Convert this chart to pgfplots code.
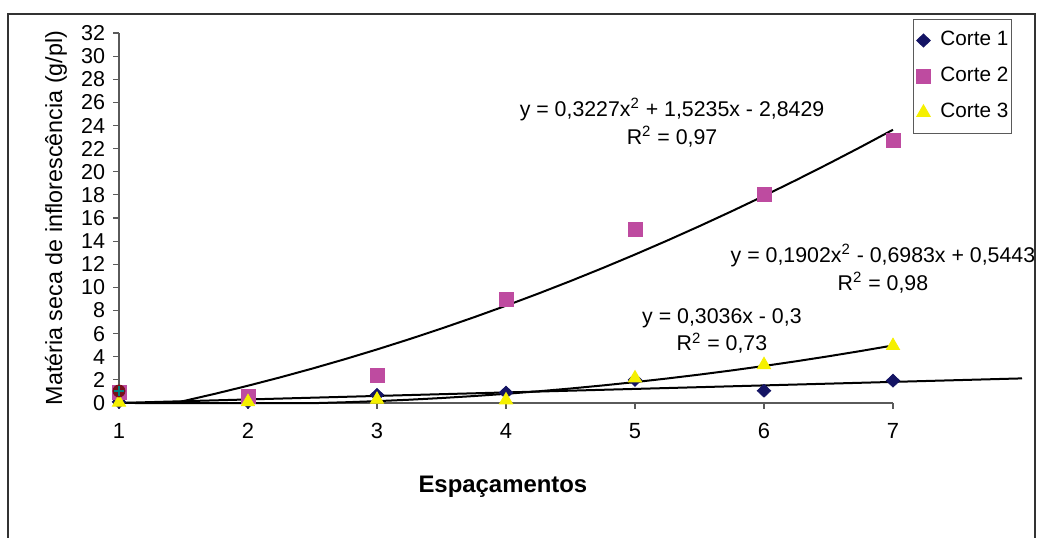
\documentclass[border=0pt]{standalone}
\usepackage{fontspec}
\setmainfont{Liberation Sans}
\usepackage{pgfplots}
\pgfplotsset{compat=1.18}
\definecolor{c1}{RGB}{20,20,100}
\definecolor{c2}{RGB}{190,75,160}
\definecolor{c3}{RGB}{245,240,0}
\definecolor{c6}{RGB}{120,15,25}
\definecolor{c7}{RGB}{0,128,128}
\definecolor{axgray}{RGB}{90,90,90}
\begin{document}
\begin{tikzpicture}
\begin{axis}[
  scale only axis, width=387bp, height=185bp,
  xmin=1, xmax=7, ymin=0, ymax=32,
  clip=false,
  axis x line*=bottom, axis y line*=left,
  axis line style={axgray, line width=0.6bp},
  xtick={1,...,7}, ytick={0,2,...,32},
  tick align=outside, tick style={axgray, line width=0.6bp},
  major tick length=2.8bp,
  /pgf/number format/assume math mode=true,
  xticklabel style={font=\fontsize{11}{12}\selectfont, inner sep=0pt, anchor=north, yshift=-7bp},
  yticklabel style={font=\fontsize{10.8}{11}\selectfont, inner sep=0pt, anchor=east, xshift=-4bp},
  every axis x label/.style={at={(axis description cs:0.496,-0.2432)}, anchor=base},
  every axis y label/.style={at={(axis description cs:-0.0736,0.5)}, rotate=90, anchor=base},
  xlabel={\fontsize{12}{14}\selectfont\bfseries Espaçamentos},
  ylabel={\fontsize{11.7}{14}\selectfont Matéria seca de inflorescência (g/pl)},
  legend style={at={(axis description cs:1.0258,1.0378)}, anchor=north west,
    draw=axgray, line width=0.5bp, font=\fontsize{10.4}{12}\selectfont,
    inner xsep=1.5bp, inner ysep=6bp, row sep=9bp, column sep=5bp,
    nodes={inner sep=0pt, text height=7bp, text depth=2bp},
    cells={anchor=west}},
]
\coordinate (SW) at (rel axis cs:0,0);
% data series
\addplot[only marks, color=c1, mark=diamond*, mark size=3.2bp, mark options={xscale=1.4}]
  coordinates {(1,0.1) (2,0.1) (3,0.7) (4,0.9) (5,2.0) (6,1.06) (7,1.93)};
\addlegendentry{Corte 1\hspace{4bp}}
\addplot[only marks, color=c2, mark=square*, mark size=3.5bp]
  coordinates {(1,0.9) (2,0.6) (3,2.4) (4,9.0) (5,15.05) (6,18.05) (7,22.7)};
\addlegendentry{Corte 2\hspace{4bp}}
\addplot[only marks, color=c3, mark=triangle*, mark size=3.8bp]
  coordinates {(1,0.05) (2,0.1) (3,0.3) (4,0.25) (5,2.15) (6,3.3) (7,4.95)};
\addlegendentry{Corte 3\hspace{4bp}}
\addplot[forget plot, only marks, color=c6, mark=*, mark size=3bp]
  coordinates {(1,1.04)};
\addplot[forget plot, only marks, color=c7, mark=+, mark size=2.6bp, line width=0.8bp]
  coordinates {(1,1.04)};
% trendlines
\addplot[forget plot, black, line width=1bp] coordinates {(1,0.0036) (8,2.1288)};
\addplot[forget plot, black, line width=1bp] coordinates {
 (1.432,0) (1.5,0.1684) (1.75,0.8115) (2,1.4949) (2.25,2.2187) (2.5,2.9827) (2.75,3.7872)
 (3,4.6319) (3.25,5.517) (3.5,6.4424) (3.75,7.4082) (4,8.4143) (4.25,9.4608) (4.5,10.5475)
 (4.75,11.6746) (5,12.8421) (5.25,14.0499) (5.5,15.298) (5.75,16.5865) (6,17.9153)
 (6.25,19.2845) (6.5,20.694) (6.75,22.1437) (7,23.6339)};
\addplot[forget plot, black, line width=1bp] coordinates {
 (1,0.0362) (1.1228,0) (2.5485,0) (2.75,0.0624) (3,0.1612) (3.25,0.2838) (3.5,0.4302)
 (3.75,0.6004) (4,0.7943) (4.25,1.012) (4.5,1.2535) (4.75,1.5188) (5,1.8078) (5.25,2.1206)
 (5.5,2.4572) (5.75,2.8176) (6,3.2017) (6.25,3.6096) (6.5,4.0413) (6.75,4.4968) (7,4.976)};
% equations
\node[align=center, font=\fontsize{10.7}{14}\selectfont] at (axis cs:5.287,24.26)
  {y = 0,3227x\textsuperscript{2} + 1,5235x - 2,8429\\R\textsuperscript{2} = 0,97};
\node[align=center, font=\fontsize{10.7}{14}\selectfont] at (axis cs:6.922,11.63)
  {y = 0,1902x\textsuperscript{2} - 0,6983x + 0,5443\\R\textsuperscript{2} = 0,98};
\node[align=center, font=\fontsize{10.7}{14}\selectfont] at (axis cs:5.674,6.23)
  {y = 0,3036x - 0,3\\R\textsuperscript{2} = 0,73};
\end{axis}
\draw[black!80, line width=0.65bp] ([shift={(-55.5bp,-67.5bp)}]SW) -- ([shift={(-55.5bp,194.5bp)}]SW)
  -- ([shift={(458bp,194.5bp)}]SW) -- ([shift={(458bp,-67.5bp)}]SW);
\pgfresetboundingbox
\path[use as bounding box] ([shift={(-59.5bp,-67.5bp)}]SW) rectangle ([shift={(460bp,201.5bp)}]SW);
\end{tikzpicture}
\end{document}
